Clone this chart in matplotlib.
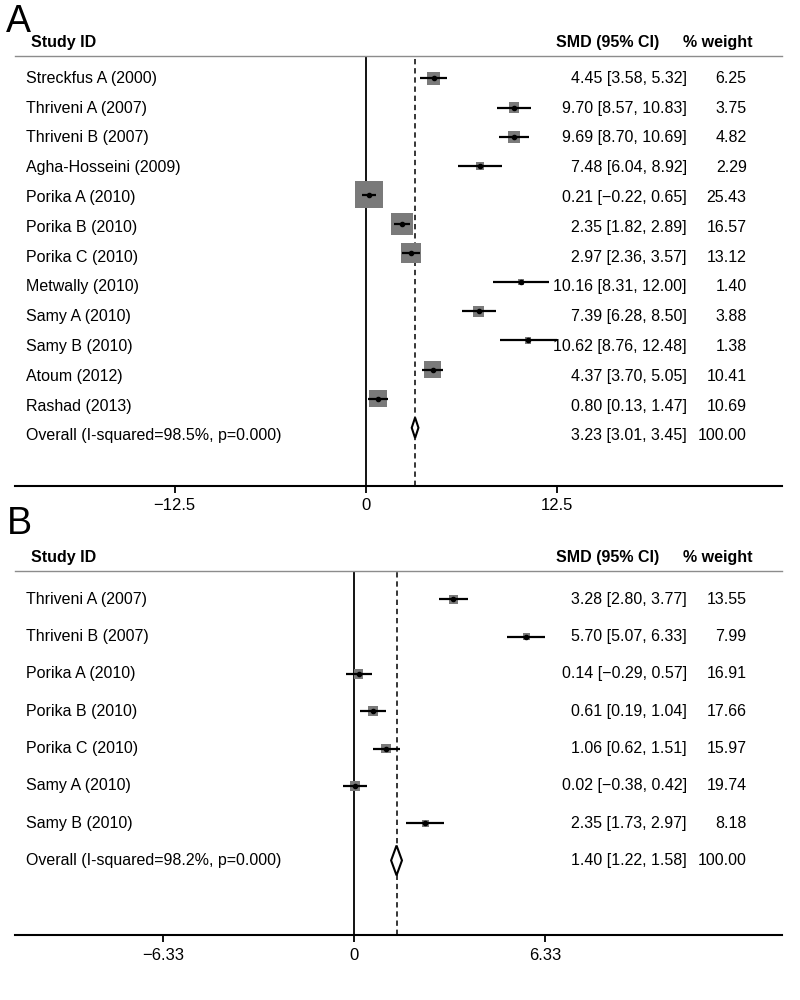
import matplotlib.pyplot as plt
import matplotlib.transforms as mtransforms
import numpy as np

plt.rcParams['font.family'] = ['Liberation Sans', 'DejaVu Sans']
plt.rcParams['font.size'] = 11.5

# ---- panel A data ----
studies_a = ['Streckfus A (2000)', 'Thriveni A (2007)', 'Thriveni B (2007)',
             'Agha-Hosseini (2009)', 'Porika A (2010)', 'Porika B (2010)',
             'Porika C (2010)', 'Metwally (2010)', 'Samy A (2010)',
             'Samy B (2010)', 'Atoum (2012)', 'Rashad (2013)']
smd_a = [4.45, 9.70, 9.69, 7.48, 0.21, 2.35, 2.97, 10.16, 7.39, 10.62, 4.37, 0.80]
lo_a = [3.58, 8.57, 8.70, 6.04, -0.22, 1.82, 2.36, 8.31, 6.28, 8.76, 3.70, 0.13]
hi_a = [5.32, 10.83, 10.69, 8.92, 0.65, 2.89, 3.57, 12.00, 8.50, 12.48, 5.05, 1.47]
weight_a = [6.25, 3.75, 4.82, 2.29, 25.43, 16.57, 13.12, 1.40, 3.88, 1.38, 10.41, 10.69]
overall_a = [3.23, 3.01, 3.45]
i2_a = '98.5%'
ticks_a = [-12.5, 0, 12.5]
ticklabels_a = ['\u221212.5', '0', '12.5']

# ---- panel B data ----
studies_b = ['Thriveni A (2007)', 'Thriveni B (2007)', 'Porika A (2010)',
             'Porika B (2010)', 'Porika C (2010)', 'Samy A (2010)', 'Samy B (2010)']
smd_b = [3.28, 5.70, 0.14, 0.61, 1.06, 0.02, 2.35]
lo_b = [2.80, 5.07, -0.29, 0.19, 0.62, -0.38, 1.73]
hi_b = [3.77, 6.33, 0.57, 1.04, 1.51, 0.42, 2.97]
weight_b = [13.55, 7.99, 16.91, 17.66, 15.97, 19.74, 8.18]
overall_b = [1.40, 1.22, 1.58]
i2_b = '98.2%'
ticks_b = [-6.33, 0, 6.33]
ticklabels_b = ['\u22126.33', '0', '6.33']

BOX = '#7a7a7a'


def fmt(v):
    return f'{v:.2f}'.replace('-', '\u2212')


def draw_panel(ax, studies, smd, lo, hi, weight, overall, i2, ticks, ticklabels,
               xlim, box_k, diamond_h, text_step):
    n = len(studies)
    rows = np.arange(n)
    ax.set_xlim(*xlim)
    ax.set_ylim(n + 2, -0.77)

    ax.axvline(0, color='black', lw=1.3, zorder=1)
    ax.axvline(overall[0], color='black', lw=1.1, ls=(0, (3.5, 2.5)), zorder=1)

    side_pt = box_k * np.sqrt(weight) * 0.72
    ax.scatter(smd, rows, marker='s', s=side_pt ** 2, color=BOX, linewidths=0, zorder=3)

    # CIs running past the last tick are cut there and get an open arrowhead
    xmax = max(ticks)
    for r, l, h in zip(rows, lo, hi):
        if h > xmax:
            ax.annotate('', xy=(xmax, r), xytext=(l, r),
                        arrowprops=dict(arrowstyle='->,head_length=0.7,head_width=0.45',
                                        lw=1.6, color='black',
                                        mutation_scale=16, shrinkA=0, shrinkB=0),
                        zorder=6)
        else:
            ax.plot([l, h], [r, r], color='black', lw=1.6, zorder=4,
                    solid_capstyle='butt')
    ax.plot(smd, rows, 'o', ms=3, color='black', zorder=5)

    est, olo, ohi = overall
    ax.fill([olo, est, ohi, est], [n, n - diamond_h, n, n + diamond_h],
            facecolor='white', edgecolor='black', lw=1.5, zorder=4)

    trans = mtransforms.blended_transform_factory(ax.transAxes, ax.transData)
    names = studies + [f'Overall (I-squared={i2}, p=0.000)']
    smds = smd + [est]
    los = lo + [olo]
    his = hi + [ohi]
    weights = weight + [100.0]
    for i, (nm, s, l, h, w) in enumerate(zip(names, smds, los, his, weights)):
        y = i * text_step
        ax.text(0.0143, y, nm, transform=trans, ha='left', va='center', zorder=2)
        ax.text(0.8757, y, f'{fmt(s)} [{fmt(l)}, {fmt(h)}]', transform=trans,
                ha='right', va='center', zorder=2)
        ax.text(0.954, y, f'{w:.2f}', transform=trans, ha='right', va='center', zorder=2)

    for x, lab, ha in [(0.0205, 'Study ID', 'left'), (0.8396, 'SMD (95% CI)', 'right'),
                       (0.962, '% weight', 'right')]:
        ax.annotate(lab, xy=(x, 1), xycoords='axes fraction', xytext=(0, 9.5),
                    textcoords='offset points', ha=ha, va='center',
                    fontweight='bold')

    ax.set_xticks(ticks, ticklabels)
    ax.set_yticks([])
    ax.tick_params(axis='x', length=5, width=1.3, pad=4, labelsize=12)
    for side in ['left', 'right']:
        ax.spines[side].set_visible(False)
    ax.spines['top'].set_color('#8c8c8c')
    ax.spines['top'].set_linewidth(1.0)
    ax.spines['bottom'].set_linewidth(1.5)


fig = plt.figure(figsize=(8, 10), dpi=100)
ax_a = fig.add_axes([0.01875, 0.514, 0.95875, 0.430])
ax_b = fig.add_axes([0.01875, 0.065, 0.95875, 0.3643])

draw_panel(ax_a, studies_a, smd_a, lo_a, hi_a, weight_a, overall_a, i2_a,
           ticks_a, ticklabels_a, (-22.94, 27.23), 5.4, 0.35, 1.023)
draw_panel(ax_b, studies_b, smd_b, lo_b, hi_b, weight_b, overall_b, i2_b,
           ticks_b, ticklabels_b, (-11.25, 14.18), 2.4, 0.4, 1.0)

fig.text(0.008, 0.978, 'A', fontsize=27, ha='left', va='center')
fig.text(0.008, 0.476, 'B', fontsize=27, ha='left', va='center')

fig.savefig('out.png', dpi=100)
